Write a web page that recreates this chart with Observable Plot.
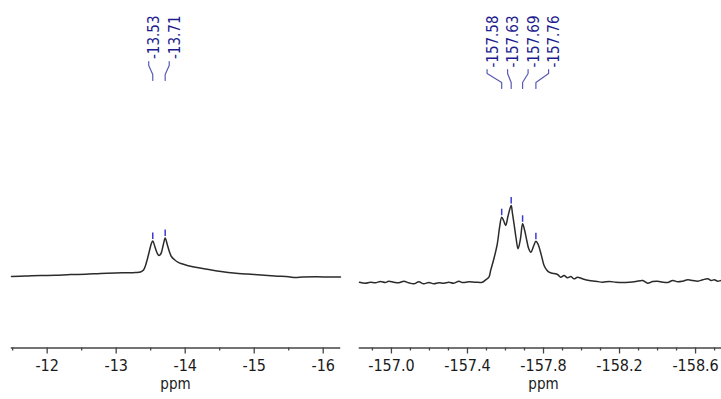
<!DOCTYPE html>
<html>
<head>
<meta charset="utf-8">
<script src="https://cdn.jsdelivr.net/npm/d3@7"></script>
<script src="https://cdn.jsdelivr.net/npm/@observablehq/plot@0.6"></script>
<style>
  body { margin: 0; background: #fff; overflow: hidden; }
  #chart { display: flex; width: 721px; height: 399px; overflow: hidden; }
  #chart svg { flex: none; }
</style>
</head>
<body>
<div id="chart"></div>
<script>
// Doublet near -13.6 ppm (chemical shift, intensity in arbitrary units)
const leftPpm = [-11.483, -11.686, -11.903, -12.12, -12.338, -12.555, -12.772, -12.99, -13.135, -13.28, -13.352,
  -13.396, -13.425, -13.454, -13.483, -13.51, -13.53, -13.56, -13.59, -13.62, -13.65, -13.68, -13.71, -13.74,
  -13.77, -13.8, -13.85, -13.9, -13.95, -14.03, -14.15, -14.27, -14.4, -14.52, -14.7, -14.9, -15.1, -15.3,
  -15.5, -15.6, -15.7, -15.9, -16.1, -16.25];
const leftIntensity = [0, 0.4, 1, 1.2, 2, 2.2, 3, 3.5, 3.7, 4, 4.5,
  6.5, 11, 18, 26, 33, 35.5, 30, 24, 21, 23, 31, 38.5, 32,
  25, 20, 16.5, 14.2, 12.7, 11, 9.2, 7.7, 6.2, 5, 3.5, 2.4, 1.5, 0.5,
  -0.3, -1, -0.5, -0.3, -0.5, -0.5];
const leftPeaks = [-13.53, -13.71];
const leftMajorTicks = [-12, -13, -14, -15, -16];
const leftMinorTicks = [-11.5, -12.5, -13.5, -14.5, -15.5];

// Multiplet near -157.7 ppm
const rightPpm = [-156.832, -156.863, -156.889, -156.916, -156.942, -156.968, -156.986, -157.012, -157.039,
  -157.065, -157.091, -157.118, -157.144, -157.17, -157.197, -157.223, -157.249, -157.276, -157.302, -157.328,
  -157.355, -157.373, -157.408, -157.443, -157.478, -157.496, -157.513, -157.522, -157.539, -157.557, -157.569,
  -157.58, -157.59, -157.601, -157.614, -157.63, -157.636, -157.645, -157.656, -157.666, -157.679, -157.69,
  -157.701, -157.712, -157.722, -157.733, -157.749, -157.76, -157.772, -157.782, -157.793, -157.803, -157.817,
  -157.829, -157.847, -157.874, -157.891, -157.908, -157.926, -157.944, -157.961, -157.979, -158.005, -158.04,
  -158.075, -158.111, -158.146, -158.181, -158.216, -158.251, -158.286, -158.322, -158.348, -158.374, -158.401,
  -158.427, -158.453, -158.48, -158.506, -158.532, -158.559, -158.585, -158.612, -158.638, -158.664, -158.682,
  -158.699, -158.717, -158.734, -158.77];
const rightIntensity = [0.3, -0.7, 0.3, -0.3, 1, 0, 1.3, 0.3, -0.3,
  1.3, -0.3, -1.3, 0.7, -1.3, 0, -1.3, -0.3, -0.7, 0.3, -0.7,
  1.3, 0, 0.7, 0.3, 0.3, 2.7, 5.3, 12, 23.7, 38.7, 55.3,
  65.3, 62, 57, 67, 77, 70, 58.7, 44, 33.7, 44, 58.7,
  52, 42, 34, 30.3, 37, 41.3, 38, 32, 24, 17, 12.5,
  10.3, 9.3, 8, 5.3, 7, 4.7, 6, 3.7, 5.3, 3.7, 2,
  1.3, 0.3, 1, 0.3, 0, 0.3, 1, 2, -0.7, 1, 1.3,
  0.3, 0, 2, 0.7, 1.3, 2.7, 2, 1.3, 2.7, 3.7, 2,
  2.7, 1.3, 2, 2];
const rightPeaks = [-157.58, -157.63, -157.69, -157.76];
const rightMajorTicks = [-157.0, -157.4, -157.8, -158.2, -158.6];
const rightMinorTicks = [-156.9, -157.1, -157.2, -157.3, -157.5, -157.6, -157.7, -157.9, -158.0, -158.1,
  -158.3, -158.4, -158.5, -158.7];

const H = 399;
const axisY = 347.5;          // pixel row of the ppm axis
const labelTop = 15;          // top edge of the peak labels
const labelPitch = 20.5;      // spacing between neighbouring peak labels, px
const font = "'DejaVu Sans Condensed', 'DejaVu Sans', sans-serif";

function interpolate(ppm, intensity, p) {
  for (let i = 0; i < ppm.length - 1; i++) {
    const a = ppm[i], b = ppm[i + 1];
    if ((p <= a && p >= b) || (p >= a && p <= b)) {
      const t = (p - a) / (b - a);
      return intensity[i] + t * (intensity[i + 1] - intensity[i]);
    }
  }
  return 0;
}

function spectrum({ppm, intensity, peaks, majors, minors, decimals, xDomain, width, marginLeft, marginRight,
                   baseline, linkTop, linkBottom}) {
  const data = ppm.map((p, i) => ({ppm: p, intensity: intensity[i]}));
  const pxPerPpm = (width - marginLeft - marginRight) / Math.abs(xDomain[1] - xDomain[0]);
  const centre = d3.mean(peaks);
  const n = peaks.length;
  // intensity units are one pixel each, so pixel rows convert directly
  const rowToValue = (row) => baseline - row;
  const labels = peaks.map((p, i) => ({
    peak: p,
    apex: interpolate(ppm, intensity, p),
    lx: centre - (i - (n - 1) / 2) * labelPitch / pxPerPpm
  }));
  const links = labels.flatMap((d, i) => [
    {k: i, x: d.lx, y: rowToValue(linkTop)},
    {k: i, x: d.lx, y: rowToValue(linkTop + 4)},
    {k: i, x: d.peak, y: rowToValue(linkBottom - 6)},
    {k: i, x: d.peak, y: rowToValue(linkBottom)}
  ]);

  return Plot.plot({
    width,
    height: H,
    marginLeft,
    marginRight,
    marginTop: labelTop,
    marginBottom: H - axisY,
    style: {fontFamily: font, background: "#fff", overflow: "hidden"},
    x: {domain: xDomain},
    y: {domain: [0, 100], range: [baseline, baseline - 100], axis: null},
    marks: [
      Plot.frame({anchor: "bottom", stroke: "#444", strokeWidth: 1.5}),
      Plot.axisX({ticks: majors, tickSize: 6, tickPadding: 6, fontSize: 16, color: "#1a1a1a", stroke: "#444",
                  strokeWidth: 1.3, label: null, tickFormat: (d) => d.toFixed(decimals)}),
      Plot.axisX({ticks: minors, tickSize: 3, stroke: "#444", strokeWidth: 1.3, label: null, tickFormat: () => ""}),
      Plot.text(["ppm"], {frameAnchor: "bottom", dy: 41, fontSize: 15, fill: "#1a1a1a"}),
      Plot.line(data, {x: "ppm", y: "intensity", curve: "catmull-rom", stroke: "#2b2b2b", strokeWidth: 1.5}),
      Plot.ruleX(labels, {x: "peak", y1: (d) => d.apex + 1.5, y2: (d) => d.apex + 8, stroke: "#3b3bd0", strokeWidth: 1.5}),
      Plot.line(links, {x: "x", y: "y", z: "k", stroke: "#5a5ab4", strokeWidth: 1.2}),
      Plot.text(labels, {x: "lx", text: (d) => d.peak.toFixed(2), rotate: -90, frameAnchor: "top",
                         textAnchor: "end", fontSize: 15, fill: "#1c1c8e"})
    ]
  });
}

const chart = document.getElementById("chart");
chart.append(spectrum({
  ppm: leftPpm, intensity: leftIntensity, peaks: leftPeaks,
  majors: leftMajorTicks, minors: leftMinorTicks, decimals: 0,
  xDomain: [-11.483, -16.236], width: 350, marginLeft: 11, marginRight: 11,
  baseline: 276, linkTop: 61, linkBottom: 80
}));
chart.append(spectrum({
  ppm: rightPpm, intensity: rightIntensity, peaks: rightPeaks,
  majors: rightMajorTicks, minors: rightMinorTicks, decimals: 1,
  xDomain: [-156.832, -158.768], width: 377, marginLeft: 9, marginRight: 0,
  baseline: 282, linkTop: 69, linkBottom: 88
}));
</script>
</body>
</html>
